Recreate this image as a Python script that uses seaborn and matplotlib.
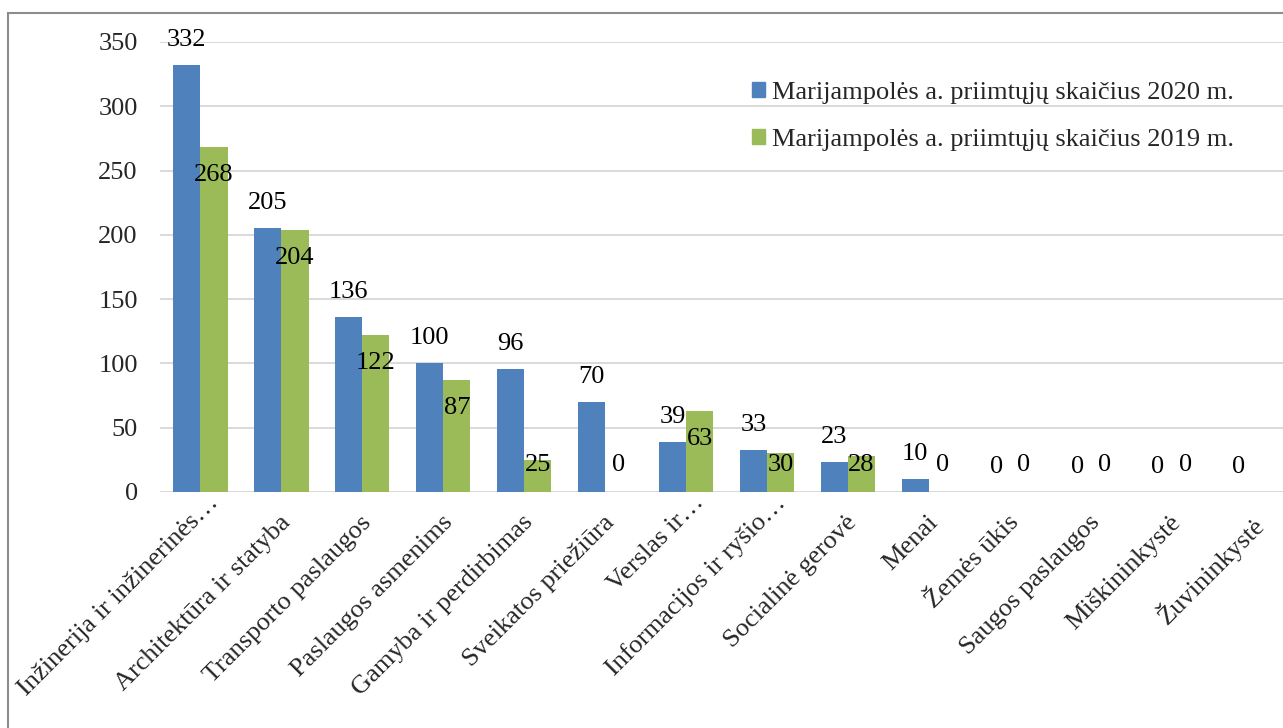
import numpy as np
import pandas as pd
import matplotlib.pyplot as plt
import matplotlib.transforms as mtransforms
from matplotlib.patches import Rectangle, Patch
import seaborn as sns

categories = ["Inžinerija ir inžinerinės…", "Architektūra ir statyba", "Transporto paslaugos",
              "Paslaugos asmenims", "Gamyba ir perdirbimas", "Sveikatos priežiūra",
              "Verslas ir…", "Informacijos ir ryšio…", "Socialinė gerovė", "Menai",
              "Žemės ūkis", "Saugos paslaugos", "Miškininkystė", "Žuvininkystė"]
values_2020 = [332, 205, 136, 100, 96, 70, 39, 33, 23, 10, 0, 0, 0, 0]
values_2019 = [268, 204, 122, 87, 25, 0, 63, 30, 28, 0, 0, 0, 0, np.nan]
series = ["Marijampolės a. priimtųjų skaičius 2020 m.",
          "Marijampolės a. priimtųjų skaičius 2019 m."]
yticks = [0, 50, 100, 150, 200, 250, 300, 350]

blue = "#4F81BD"
green = "#9BBB59"
fs = 19

sns.set_theme(style="white")
plt.rcParams['font.family'] = ['Liberation Serif', 'DejaVu Serif']

df = pd.DataFrame({"cat": categories, series[0]: values_2020, series[1]: values_2019})
df = df.melt(id_vars="cat", var_name="series", value_name="value").dropna()

fig = plt.figure(figsize=(12.83, 7.28), dpi=100)
ax = fig.add_axes([160 / 1283, 236 / 728, 1133 / 1283, 450 / 728])

sns.barplot(data=df, x="cat", y="value", hue="series", order=categories,
            hue_order=series, palette=[blue, green], saturation=1, width=0.67,
            linewidth=0, errorbar=None, ax=ax)

ax.set_ylim(0, 350)
ax.set_yticks(yticks)
ax.set_xlabel("")
ax.set_ylabel("")
ax.grid(axis="y", color="#d9d9d9", linewidth=1.4)
ax.grid(axis="x", visible=False)
ax.set_axisbelow(True)
for s in ax.spines.values():
    s.set_visible(False)
ax.axhline(0, color="#d9d9d9", linewidth=1.4, zorder=0)

ax.tick_params(axis="y", length=0, pad=16, labelsize=fs)
ax.tick_params(axis="x", length=0, pad=14, labelsize=fs)
for lbl in ax.get_xticklabels():
    lbl.set_rotation(45)
    lbl.set_ha("right")
    lbl.set_va("top")
    lbl.set_rotation_mode("anchor")
    # truncated labels sit a bit higher in the original
    if lbl.get_text().endswith("…"):
        offset = mtransforms.ScaledTranslation(7 / 100, 20 / 100, fig.dpi_scale_trans)
    else:
        offset = mtransforms.ScaledTranslation(-2 / 100, 0, fig.dpi_scale_trans)
    lbl.set_transform(lbl.get_transform() + offset)

# data labels: 2020 outside end, 2019 inside end
for bar in ax.containers[0]:
    h = bar.get_height()
    ax.annotate(f"{h:.0f}", (bar.get_x() + bar.get_width() / 2, h),
                xytext=(0, 18), textcoords="offset points",
                ha="center", va="center", fontsize=fs, color="black")
for bar in ax.containers[1]:
    h = bar.get_height()
    if np.isnan(h):
        continue
    ax.text(bar.get_x() + bar.get_width() / 2, max(h - 21.8, 21), f"{h:.0f}",
            ha="center", va="center", fontsize=fs, color="black")

if ax.get_legend() is not None:
    ax.get_legend().remove()
handles = [Patch(color=blue), Patch(color=green)]
fig.legend(handles, series, loc="upper left", bbox_to_anchor=(752 / 1283, 1 - 82 / 728),
           frameon=False, fontsize=fs, handlelength=0.5, handleheight=0.5,
           handletextpad=0.25, labelspacing=0.95, borderpad=0, borderaxespad=0)

# outer chart border
fig.patches.append(Rectangle((8 / 1283, -0.1), 1.2, 1.1 - 13 / 728, transform=fig.transFigure,
                             fill=False, edgecolor="#8c8c8c", linewidth=1.5))

fig.savefig("out.png", dpi=100)
